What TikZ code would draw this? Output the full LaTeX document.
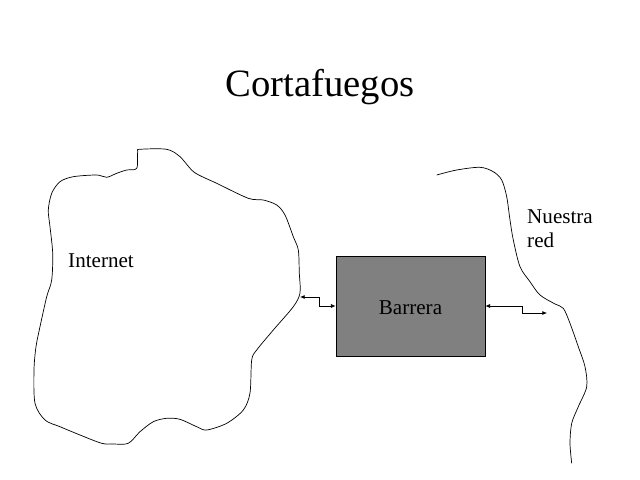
\documentclass[tikz,border=0pt]{standalone}
\usepackage{fontspec}
\setmainfont{Liberation Serif}
\usetikzlibrary{arrows.meta}
\definecolor{wall}{HTML}{808080}
\definecolor{ink}{HTML}{000000}

\begin{document}
\begin{tikzpicture}[x=0.03cm, y=-0.03cm,
    cloud/.style={draw=ink, line width=0.6pt},
    barrierbox/.style={draw=ink, line width=0.6pt, fill=wall, minimum width=149*0.03cm, minimum height=100*0.03cm, inner sep=0pt},
    link/.style={draw=ink, line width=0.6pt, {Latex[length=4pt,width=3.5pt]}-{Latex[length=4pt,width=3.5pt]}},
    lbl/.style={font=\fontsize{18}{20}\selectfont, inner sep=0pt}]
  \useasboundingbox (0,0) rectangle (640,480);

  % Title.
  \node[font=\fontsize{33}{38}\selectfont, inner sep=0pt, anchor=base] (title) at (320,97) {Cortafuegos};

  % Internet cloud (closed outline).
  \draw[cloud] plot[smooth cycle, tension=0.5] coordinates {
    (137.7,151.7) (140,149.3) (166.7,149.3) (180,156.7) (194.3,172.3)
    (216.7,183.3) (248.3,198.3) (263.3,200) (276.7,205) (285,215)
    (293.3,236.7) (298.3,250) (299.3,273) (300,293) (293.3,306.7)
    (273.3,330) (256.7,350) (251.7,360) (250,393) (243.3,410)
    (226.7,423.3) (206.7,430) (196.7,426.7) (180,419.3) (166.7,418.3)
    (153.3,421.7) (140,431.7) (128.3,443.3) (113.3,444) (101.7,443.3)
    (80,435) (60,426.7) (45,420) (35,403.3) (34,370) (36,346.7)
    (40,326.7) (46.7,296.7) (51.7,280) (52.7,253.3) (50,226.7)
    (48.3,210) (51.7,193.3) (60,181.7) (73.3,176.7) (96.7,175)
    (106.7,177.3) (116.7,173.3) (126.7,170) (136.7,168.3)};
  \node[lbl, anchor=base west] (inet) at (68,267) {Internet};
  \coordinate (inetport) at (300,297);

  % Our network boundary (open line).
  \draw[cloud] plot[smooth, tension=0.5] coordinates {
    (436.7,175) (456.7,170) (480,167.3) (493.3,171.7) (501.7,180)
    (506.7,196.7) (510,220) (513.3,240) (520,266.7) (530,281.7)
    (540,295) (555,304) (563.3,308.3) (570,323.3) (578.3,346.7)
    (585,366.7) (586.7,386.7) (578.3,406.7) (571.7,423.3) (570,443.3)
    (571.7,463.3)};
  \node[lbl, anchor=base west, align=left] (red) at (527,247) {Nuestra\\red};
  \coordinate (redport) at (547,313);

  % Barrier between both sides.
  \node[barrierbox] (barrera) at (410.5,306) {};
  \node[lbl, anchor=base] (barreralbl) at (410.5,314) {Barrera};

  \draw[link] (inetport) -- ++(19,0) |- (barrera.west);
  \draw[link] (barrera.east) -- ++(37,0) |- (redport);
\end{tikzpicture}
\end{document}
